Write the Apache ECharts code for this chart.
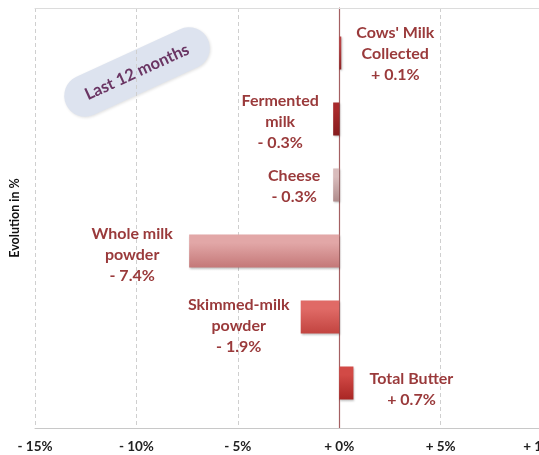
<!DOCTYPE html>
<html>
<head>
<meta charset="utf-8">
<script src="https://cdn.jsdelivr.net/npm/echarts@6/dist/echarts.min.js"></script>
<style>
  html, body { margin: 0; padding: 0; background: #ffffff; }
  #chart { width: 539px; height: 455px; }
</style>
</head>
<body>
<div id="chart"></div>
<script>
// Product groups, top to bottom
const products = ["Cows' Milk\nCollected", "Fermented\nmilk", "Cheese", "Whole milk\npowder", "Skimmed-milk\npowder", "Total Butter"];
// Year-on-year change, in %
const changes = [0.1, -0.3, -0.3, -7.4, -1.9, 0.7];
// Axis range and step, in %
const axisMin = -15;
const axisMax = 15;
const axisStep = 5;

// Bar fills (top, bottom of vertical gradient)
const barFills = [
  ['#b84244', '#8e2526'],
  ['#a82a2c', '#861b1d'],
  ['#d9bcbc', '#b08c8c'],
  ['#e2a7a7', '#c47878'],
  ['#e06a66', '#c24440'],
  ['#d24a46', '#a92624']
];
// Where each value label sits relative to the bar end: side, dx, dy
const labelPlacement = [
  ['right', 54, 1],
  ['left', -53, 3],
  ['left', -39, 1],
  ['left', -57, 4],
  ['left', -62, 9],
  ['right', 58, 6]
];

function pct(v) {
  const s = v < 0 ? '- ' : '+ ';
  return s + Math.abs(v).toFixed(1) + '%';
}

const chart = echarts.init(document.getElementById('chart'), null, { renderer: 'canvas' });

const FONT = 'Lato, "Open Sans", sans-serif';
const LABEL_COLOR = '#9a3a3b';

const barData = changes.map((v, i) => ({
  value: v,
  itemStyle: {
    color: new echarts.graphic.LinearGradient(0, 0, 0, 1, [
      { offset: 0, color: barFills[i][0] },
      { offset: 0.25, color: barFills[i][0] },
      { offset: 1, color: barFills[i][1] }
    ]),
    shadowColor: 'rgba(0,0,0,0.25)',
    shadowBlur: 2,
    shadowOffsetX: 1,
    shadowOffsetY: 1
  },
  label: {
    show: true,
    position: labelPlacement[i][0],
    distance: 0,
    align: 'center',
    verticalAlign: 'middle',
    offset: [labelPlacement[i][1], labelPlacement[i][2]],
    formatter: () => products[i] + '\n' + pct(v),
    color: LABEL_COLOR,
    fontFamily: FONT,
    fontWeight: 'bold',
    fontSize: 16,
    lineHeight: 21
  }
}));

const sideRight = -104.5;

chart.setOption({
  animation: false,
  backgroundColor: '#ffffff',
  grid: [
    { left: 35, right: sideRight, top: 8, bottom: 27, outerBoundsMode: 'none', containLabel: false },
    { left: 35, right: sideRight, top: 20, bottom: 39, outerBoundsMode: 'none', containLabel: false }
  ],
  xAxis: [
    {
      gridIndex: 0, type: 'value', min: axisMin, max: axisMax, interval: axisStep,
      axisLine: { show: true, onZero: false, lineStyle: { color: '#c8c8c8', width: 1 } },
      axisTick: { show: false },
      splitLine: { show: true, lineStyle: { color: '#cfcfcf', type: [4, 3], width: 1 } },
      axisLabel: {
        margin: 12,
        color: '#222222',
        fontFamily: FONT,
        fontWeight: 'bold',
        fontSize: 13.5,
        formatter: v => (v < 0 ? '- ' + Math.abs(v) : '+ ' + v) + '%'
      }
    },
    {
      gridIndex: 0, type: 'value', position: 'top', min: axisMin, max: axisMax,
      axisLine: { show: true, onZero: false, lineStyle: { color: '#dcdcdc', width: 1 } },
      axisTick: { show: false }, axisLabel: { show: false }, splitLine: { show: false }
    },
    {
      gridIndex: 1, type: 'value', min: axisMin, max: axisMax, show: false
    }
  ],
  yAxis: [
    {
      gridIndex: 0, xAxisIndex: 0, type: 'value', min: 0, max: 1,
      name: 'Evolution in %',
      nameLocation: 'middle',
      nameGap: 14,
      nameRotate: 90,
      nameTextStyle: { color: '#111111', fontFamily: FONT, fontWeight: 'bold', fontSize: 12.5 },
      axisLine: { show: true, onZero: true, lineStyle: { color: '#a46062', width: 1.2 } },
      axisTick: { show: false }, axisLabel: { show: false }, splitLine: { show: false }
    },
    {
      gridIndex: 1, type: 'category', data: products, inverse: true, show: false
    }
  ],
  series: [
    {
      type: 'bar',
      xAxisIndex: 2,
      yAxisIndex: 1,
      barWidth: '50%',
      data: barData
    }
  ],
  graphic: [
    {
      type: 'group',
      x: 137,
      y: 72,
      rotation: 0.43,
      children: [
        {
          type: 'rect',
          shape: { x: -78, y: -21, width: 156, height: 42, r: 21 },
          style: { fill: '#dde3ef', shadowColor: 'rgba(0,0,0,0.12)', shadowBlur: 3, shadowOffsetX: 1, shadowOffsetY: 1 }
        },
        {
          type: 'text',
          x: 0,
          y: 0,
          style: {
            text: 'Last 12 months',
            fill: '#6a3563',
            font: 'bold 16.5px ' + FONT,
            align: 'center',
            verticalAlign: 'middle'
          }
        }
      ]
    }
  ]
});
</script>
</body>
</html>
